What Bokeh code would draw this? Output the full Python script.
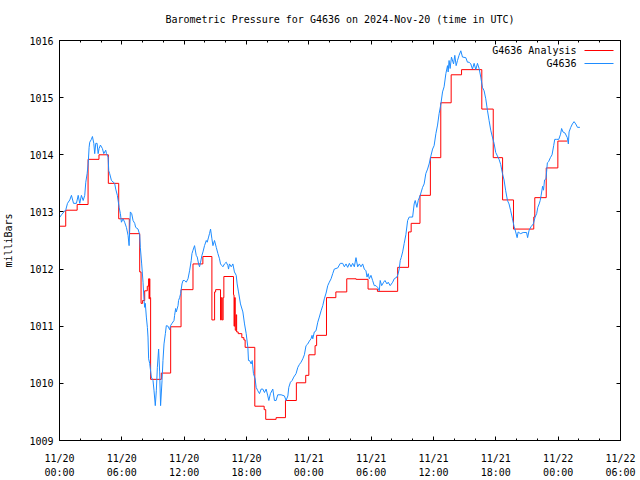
from bokeh.plotting import figure
from bokeh.models import (FixedTicker, LinearAxis, Range1d, Label, BoxAnnotation,
                          CustomLabelingPolicy)
from bokeh.embed import file_html
from bokeh.resources import INLINE

TITLE = "Barometric Pressure for G4636 on 2024-Nov-20 (time in UTC)"
Y_LABEL = "milliBars"
SERIES_NAMES = ["G4636 Analysis", "G4636"]
SERIES_COLORS = ["#ff0000", "#1e8cff"]

# hours since 2024-11-20 00:00 UTC
X_TICK_HOURS = [0, 6, 12, 18, 24, 30, 36, 42, 48, 54]
X_TICK_LABELS = ["11/20\n00:00", "11/20\n06:00", "11/20\n12:00", "11/20\n18:00",
                 "11/21\n00:00", "11/21\n06:00", "11/21\n12:00", "11/21\n18:00",
                 "11/22\n00:00", "11/22\n06:00"]
X_MINOR_HOURS = list(range(0, 55, 2))
Y_TICKS = [1009, 1010, 1011, 1012, 1013, 1014, 1015, 1016]

# Analysis (stepped)
ANALYSIS_HOURS = [0.00, 0.60, 1.70, 2.75, 3.80, 4.70, 5.70, 6.72, 7.72, 7.85,
                  8.00, 8.20, 8.45, 8.58, 8.62, 8.66, 8.70, 8.77, 9.80, 10.70,
                  11.70, 12.85, 13.80, 14.67, 14.93, 15.03, 15.50, 15.58, 15.66, 15.75,
                  15.82, 16.75, 16.80, 16.85, 16.92, 17.00, 17.05, 17.20, 17.55, 17.75,
                  17.87, 18.80, 19.70, 19.85, 20.85, 21.75, 22.80, 23.70, 24.00, 24.60,
                  24.75, 25.70, 26.60, 27.65, 28.55, 29.70, 30.60, 32.55, 33.60, 33.85,
                  34.70, 35.70, 36.70, 37.70, 38.70, 40.65, 41.75, 42.65, 43.70, 45.65,
                  45.75, 46.85, 47.97, 48.88]
ANALYSIS_MB = [1012.75, 1013.03, 1013.13, 1013.92, 1014.00, 1013.50, 1012.88, 1012.62, 1011.95, 1011.40,
               1011.45, 1011.62, 1011.70, 1011.83, 1011.48, 1011.83, 1011.50, 1010.07, 1010.18, 1010.99,
               1011.64, 1012.09, 1012.22, 1011.11, 1011.60, 1011.64, 1011.11, 1011.50, 1011.11, 1011.50,
               1011.87, 1011.55, 1011.00, 1011.50, 1010.93, 1011.20, 1010.90, 1010.87, 1010.80, 1010.76,
               1010.63, 1009.60, 1009.54, 1009.37, 1009.40, 1009.70, 1010.01, 1010.14, 1010.50, 1010.66,
               1010.84, 1011.50, 1011.60, 1011.83, 1011.82, 1011.65, 1011.61, 1012.03, 1012.65, 1012.80,
               1013.29, 1013.95, 1014.91, 1015.40, 1015.49, 1014.80, 1013.95, 1013.21, 1012.70, 1012.91,
               1013.25, 1013.77, 1014.24, 1014.24]

# Observations
OBS_HOURS = [0.00, 0.19, 0.61, 0.77, 0.99, 1.15, 1.35, 1.63, 1.80, 1.95,
             2.11, 2.28, 2.43, 2.53, 2.66, 2.76, 2.85, 2.91, 3.07, 3.17,
             3.30, 3.39, 3.49, 3.62, 3.72, 3.81, 3.94, 4.13, 4.26, 4.45,
             4.52, 4.68, 4.74, 4.83, 5.00, 5.31, 5.41, 5.57, 5.74, 5.86,
             5.96, 6.12, 6.27, 6.44, 6.60, 6.70, 6.82, 6.95, 7.08, 7.24,
             7.33, 7.56, 7.72, 7.78, 7.91, 8.04, 8.14, 8.20, 8.26, 8.36,
             8.46, 8.52, 8.58, 8.68, 8.84, 9.00, 9.10, 9.22, 9.32, 9.42,
             9.54, 9.64, 9.73, 9.87, 9.96, 10.06, 10.19, 10.28, 10.45, 10.60,
             10.69, 10.83, 11.02, 11.08, 11.18, 11.24, 11.41, 11.46, 11.56, 11.66,
             11.79, 11.89, 12.04, 12.20, 12.37, 12.52, 12.68, 12.75, 12.85, 13.00,
             13.16, 13.26, 13.39, 13.48, 13.58, 13.71, 13.81, 13.96, 14.13, 14.22,
             14.35, 14.44, 14.54, 14.67, 14.77, 14.92, 15.09, 15.25, 15.40, 15.50,
             15.63, 15.73, 15.88, 16.05, 16.21, 16.27, 16.36, 16.53, 16.69, 16.84,
             17.01, 17.10, 17.23, 17.42, 17.65, 17.81, 17.97, 18.13, 18.19, 18.29,
             18.45, 18.55, 18.67, 18.83, 18.93, 19.09, 19.25, 19.41, 19.57, 19.73,
             19.89, 20.05, 20.15, 20.30, 20.53, 20.69, 20.85, 21.01, 21.33, 21.65,
             21.81, 21.98, 22.07, 22.23, 22.39, 22.55, 22.77, 22.94, 23.09, 23.25,
             23.42, 23.57, 23.73, 23.90, 24.05, 24.21, 24.31, 24.38, 24.53, 24.69,
             24.86, 25.01, 25.18, 25.34, 25.49, 25.66, 25.82, 25.97, 26.14, 26.30,
             26.45, 26.78, 27.03, 27.26, 27.42, 27.58, 27.74, 27.90, 28.06, 28.22,
             28.38, 28.54, 28.70, 28.86, 29.02, 29.18, 29.34, 29.50, 29.60, 29.72,
             29.82, 29.98, 30.14, 30.30, 30.46, 30.62, 30.78, 30.87, 31.01, 31.20,
             31.33, 31.52, 31.64, 31.83, 32.07, 32.22, 32.48, 32.60, 32.70, 32.80,
             32.89, 33.03, 33.18, 33.34, 33.51, 33.66, 33.82, 33.99, 34.14, 34.24,
             34.40, 34.53, 34.72, 34.95, 35.10, 35.26, 35.43, 35.58, 35.75, 35.91,
             36.06, 36.23, 36.39, 36.54, 36.71, 36.87, 37.02, 37.19, 37.35, 37.41,
             37.50, 37.60, 37.73, 37.93, 38.05, 38.18, 38.31, 38.46, 38.63, 38.79,
             39.11, 39.27, 39.43, 39.59, 39.75, 39.91, 40.07, 40.23, 40.39, 40.55,
             40.71, 40.87, 41.03, 41.19, 41.35, 41.51, 41.67, 41.83, 41.99, 42.15,
             42.31, 42.47, 42.64, 42.79, 42.95, 43.12, 43.27, 43.43, 43.60, 43.75,
             43.91, 44.05, 44.15, 44.21, 44.39, 44.63, 44.96, 45.06, 45.19, 45.38,
             45.61, 45.78, 45.93, 46.04, 46.17, 46.27, 46.36, 46.50, 46.59, 46.69,
             46.83, 46.96, 47.08, 47.25, 47.41, 47.57, 47.67, 47.85, 48.06, 48.23,
             48.33, 48.46, 48.66, 48.88, 48.98, 49.05, 49.21, 49.37, 49.53, 49.69,
             49.86, 50.09]
OBS_MB = [1012.90, 1012.95, 1013.04, 1013.15, 1013.21, 1013.29, 1013.15, 1013.15, 1013.29, 1013.15,
          1013.29, 1013.20, 1013.29, 1013.52, 1013.67, 1013.84, 1014.13, 1014.22, 1014.27, 1014.32,
          1014.20, 1014.02, 1014.20, 1014.20, 1014.02, 1014.11, 1014.17, 1014.11, 1014.02, 1014.08,
          1014.02, 1013.96, 1013.72, 1013.67, 1013.55, 1013.50, 1013.40, 1013.29, 1013.08, 1012.97,
          1012.82, 1012.88, 1012.82, 1012.73, 1012.59, 1012.41, 1013.00, 1012.97, 1012.85, 1012.80,
          1012.73, 1012.70, 1012.60, 1012.38, 1012.09, 1011.77, 1011.45, 1011.33, 1011.40, 1011.16,
          1010.98, 1010.81, 1010.43, 1010.35, 1010.11, 1010.05, 1009.87, 1009.61, 1009.87, 1010.28,
          1010.60, 1010.20, 1009.61, 1010.05, 1010.40, 1010.69, 1010.87, 1011.01, 1011.00, 1010.94,
          1011.01, 1011.05, 1011.10, 1011.19, 1011.31, 1011.25, 1011.36, 1011.45, 1011.50, 1011.57,
          1011.74, 1011.80, 1011.80, 1011.77, 1011.83, 1011.97, 1012.15, 1012.27, 1012.33, 1012.41,
          1012.24, 1012.21, 1012.09, 1012.04, 1012.12, 1012.24, 1012.30, 1012.41, 1012.50, 1012.47,
          1012.56, 1012.62, 1012.70, 1012.53, 1012.41, 1012.50, 1012.38, 1012.27, 1012.18, 1012.09,
          1012.06, 1012.04, 1012.09, 1012.12, 1012.06, 1012.00, 1012.09, 1012.04, 1012.09, 1011.95,
          1011.89, 1011.74, 1011.60, 1011.39, 1011.25, 1011.04, 1010.87, 1010.63, 1010.40, 1010.40,
          1010.34, 1010.40, 1010.17, 1010.08, 1009.93, 1009.87, 1009.82, 1009.90, 1009.90, 1009.84,
          1009.90, 1009.78, 1009.70, 1009.82, 1009.90, 1009.70, 1009.70, 1009.80, 1009.80, 1009.78,
          1009.70, 1009.78, 1009.93, 1010.02, 1010.05, 1010.11, 1010.17, 1010.28, 1010.33, 1010.37,
          1010.43, 1010.50, 1010.66, 1010.69, 1010.74, 1010.78, 1010.84, 1010.78, 1010.90, 1010.92,
          1011.07, 1011.16, 1011.27, 1011.36, 1011.48, 1011.58, 1011.71, 1011.77, 1011.83, 1011.92,
          1012.00, 1012.02, 1012.10, 1012.10, 1012.04, 1012.09, 1012.03, 1012.10, 1012.04, 1012.10,
          1012.04, 1012.20, 1012.04, 1012.09, 1012.04, 1012.09, 1012.00, 1011.97, 1011.86, 1011.92,
          1011.83, 1011.89, 1011.80, 1011.71, 1011.71, 1011.68, 1011.62, 1011.80, 1011.71, 1011.77,
          1011.80, 1011.74, 1011.77, 1011.71, 1011.77, 1011.83, 1011.86, 1011.92, 1012.00, 1012.15,
          1012.20, 1012.30, 1012.45, 1012.60, 1012.85, 1012.91, 1012.91, 1012.91, 1013.14, 1013.20,
          1013.08, 1013.20, 1013.29, 1013.43, 1013.49, 1013.67, 1013.75, 1013.84, 1013.98, 1014.10,
          1014.16, 1014.37, 1014.52, 1014.72, 1014.89, 1015.10, 1015.19, 1015.42, 1015.56, 1015.45,
          1015.65, 1015.51, 1015.71, 1015.59, 1015.74, 1015.56, 1015.65, 1015.74, 1015.82, 1015.71,
          1015.70, 1015.62, 1015.62, 1015.59, 1015.50, 1015.60, 1015.49, 1015.60, 1015.51, 1015.36,
          1015.18, 1015.12, 1014.98, 1014.78, 1014.60, 1014.43, 1014.31, 1014.20, 1014.04, 1013.98,
          1013.92, 1013.83, 1013.67, 1013.56, 1013.37, 1013.20, 1013.14, 1013.02, 1012.88, 1012.75,
          1012.65, 1012.55, 1012.65, 1012.64, 1012.62, 1012.64, 1012.64, 1012.55, 1012.67, 1012.74,
          1012.79, 1012.91, 1012.97, 1013.08, 1013.14, 1013.20, 1013.29, 1013.45, 1013.38, 1013.56,
          1013.58, 1013.86, 1013.88, 1013.95, 1014.00, 1014.16, 1014.27, 1014.27, 1014.27, 1014.36,
          1014.46, 1014.40, 1014.38, 1014.30, 1014.19, 1014.40, 1014.48, 1014.54, 1014.58, 1014.54,
          1014.48, 1014.48]

FONT = "DejaVu Sans Mono"
FS = "10px"

p = figure(width=640, height=480, x_range=Range1d(0, 54), y_range=Range1d(1009, 1016),
           output_backend="svg", toolbar_location=None,
           min_border_left=58, min_border_right=20, min_border_top=40, min_border_bottom=40)
p.background_fill_color = "white"
p.border_fill_color = "white"
p.outline_line_color = "black"
p.outline_line_width = 1
p.xgrid.visible = False
p.ygrid.visible = False

p.title.text = TITLE
p.title.align = "center"
p.title.text_font = FONT
p.title.text_font_size = FS
p.title.text_font_style = "normal"
p.title.text_color = "black"
p.title.standoff = 10

NO_LABELS = CustomLabelingPolicy(code="""
const all = [...indices]
for (const i of all) indices.unset(i)
return indices
""")


def style_axis(ax, ticker, show_labels, standoff=6):
    ax.ticker = ticker
    ax.axis_line_color = "black"
    ax.major_tick_line_color = "black"
    ax.minor_tick_line_color = "black"
    ax.major_tick_in = 4
    ax.major_tick_out = 0
    ax.minor_tick_in = 2
    ax.minor_tick_out = 0
    ax.major_label_text_font = FONT
    ax.major_label_text_color = "black"
    ax.major_label_text_font_style = "normal"
    ax.major_label_text_font_size = FS
    ax.major_label_standoff = standoff
    if not show_labels:
        ax.major_label_policy = NO_LABELS
        ax.major_label_standoff = 0


xt = FixedTicker(ticks=X_TICK_HOURS, minor_ticks=X_MINOR_HOURS)
yt = FixedTicker(ticks=Y_TICKS, minor_ticks=[])

style_axis(p.xaxis[0], xt, True, standoff=12)
p.xaxis.major_label_overrides = dict(zip(X_TICK_HOURS, X_TICK_LABELS))
p.xaxis.major_label_text_line_height = 1.3

style_axis(p.yaxis[0], yt, True, standoff=6)
p.yaxis.axis_label = Y_LABEL
p.yaxis.axis_label_text_font = FONT
p.yaxis.axis_label_text_font_size = FS
p.yaxis.axis_label_text_font_style = "normal"
p.yaxis.axis_label_text_color = "black"
p.yaxis.axis_label_standoff = 12

# mirrored tick marks on the top and right edges (no labels)
top = LinearAxis()
style_axis(top, FixedTicker(ticks=X_TICK_HOURS, minor_ticks=X_MINOR_HOURS), False)
p.add_layout(top, "above")
right = LinearAxis()
style_axis(right, FixedTicker(ticks=Y_TICKS, minor_ticks=[]), False)
right.major_label_overrides = {t: "" for t in Y_TICKS}
p.add_layout(right, "right")

p.step(ANALYSIS_HOURS, ANALYSIS_MB, mode="after", line_color=SERIES_COLORS[0], line_width=1)
p.line(OBS_HOURS, OBS_MB, line_color=SERIES_COLORS[1], line_width=1)

# key (text on the left, sample line on the right), screen units of the frame
for i, (name, col) in enumerate(zip(SERIES_NAMES, SERIES_COLORS)):
    yk = 390 - 13 * i
    p.add_layout(Label(x=517, y=yk, x_units="screen", y_units="screen", text=name,
                       text_align="right", text_baseline="middle", text_font=FONT,
                       text_font_size=FS, text_color="black"))
    p.add_layout(BoxAnnotation(left=525, right=554, bottom=yk - 0.5, top=yk + 0.5,
                               left_units="screen", right_units="screen",
                               bottom_units="screen", top_units="screen",
                               fill_color=col, fill_alpha=1, line_color=None))

open("out.html", "w").write(file_html(p, INLINE))
